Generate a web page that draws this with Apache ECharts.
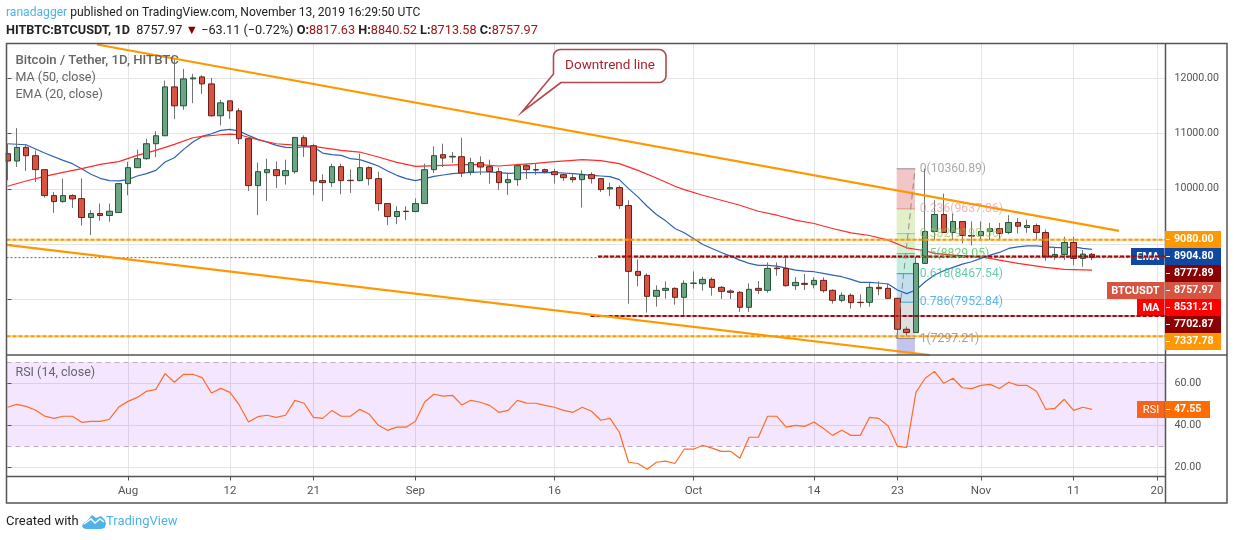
<!DOCTYPE html>
<html><head><meta charset="utf-8">
<style>html,body{margin:0;padding:0;background:#fff}#c{width:1234px;height:540px}</style>
<script src="https://cdn.jsdelivr.net/npm/echarts@6/dist/echarts.min.js"></script>
</head><body><div id="c"></div>
<script>
const FONT = "Roboto";
// day index 0 = 19 Jul 2019, one entry per daily candle
const opens=[10633,10501,10747,10597,10345,9877,9769,9877,9823,9481,9553,9517,9571,10093,10381,10543,10813,10957,11839,11497,11983,12019,11893,11317,11587,11407,10903,10057,10291,10345,10237,10309,10921,10777,10147,10111,10399,10153,10147,10381,10183,9733,9499,9595,9589,9733,10345,10615,10573,10579,10303,10471,10399,10309,10111,10165,10417,10345,10345,10309,10255,10201,10165,10255,10183,9997,10021,9697,8509,8437,8059,8167,8203,8041,8293,8287,8365,8221,8155,8131,7861,8203,8167,8569,8563,8251,8293,8269,8347,8167,7987,8077,7951,7951,8221,8203,8023,7465,7405,8653,9229,9535,9211,9409,9157,9157,9229,9283,9211,9391,9301,9337,9211,8773,8815,9031,8743,8817.63];
const closes=[10501,10747,10597,10345,9877,9769,9877,9817,9481,9553,9517,9595,10093,10381,10543,10813,10957,11839,11497,11983,12001,11893,11317,11551,11407,10903,10057,10309,10345,10237,10327,10927,10777,10141,10111,10399,10147,10147,10381,10183,9733,9499,9589,9589,9733,10345,10597,10555,10585,10285,10471,10393,10309,10111,10165,10417,10345,10339,10309,10255,10201,10165,10255,10183,9985,10021,9697,8509,8437,8059,8167,8203,8041,8293,8299,8365,8221,8149,8131,7861,8185,8167,8563,8557,8251,8311,8275,8347,8161,7987,8077,7945,7945,8221,8197,8023,7465,7405,8653,9229,9535,9211,9409,9157,9145,9229,9283,9193,9391,9325,9337,9211,8773,8815,9031,8743,8821,8757.97];
const lows=[10153,10393,10321,10123,9841,9565,9751,9655,9337,9163,9421,9403,9571,9883,10375,10525,10573,10957,11257,11425,11545,11713,11305,11143,11263,10807,9961,9523,9781,10015,10075,10273,10573,9883,9775,10033,9901,9925,10135,10063,9601,9343,9361,9433,9577,9733,10285,10393,10465,10213,10243,10249,10093,9979,9889,10051,10177,10249,10273,10093,10141,10111,9661,10093,9943,9871,9637,7927,8239,7765,7873,8017,7909,7705,8197,8161,8071,8011,8011,7777,7777,8101,8125,8431,8233,8173,8173,8203,8125,7927,7951,7837,7861,7873,8077,8023,7303,7345,7405,8653,9073,9211,9073,9013,8977,9055,9073,9073,9181,9193,9205,9073,8701,8713,8713,8623,8593,8713.58];
const highs=[10813,11095,10801,10693,10345,9943,10183,9901,10189,9613,9733,9733,10093,10489,10705,10903,11041,11953,12343,12163,12073,12049,12001,11605,11587,11455,10903,10471,10543,10495,10525,10927,10963,10813,10261,10453,10453,10351,10633,10405,10309,9733,9685,9685,9829,10453,10765,10813,10663,10921,10561,10585,10525,10381,10291,10453,10453,10453,10363,10363,10273,10273,10333,10297,10183,10111,10057,9793,8725,8473,8257,8329,8221,8347,8509,8413,8401,8245,8185,8155,8293,8335,8671,8671,8773,8407,8461,8401,8401,8185,8131,8113,8095,8305,8329,8293,8023,7513,8773,10363,9793,9913,9553,9409,9409,9409,9385,9385,9523,9469,9445,9373,9265,8941,9133,9133,8893,8840.52];
const emaDays=[0,2,4,6,7,8,9,10,11,12,13,14,15,16,17,18,19,20,21,22,23,24,25,26,27,28,29,30,31,32,33,34,35,36,37,38,39,40,41,42,43,44,45,46,47,48,49,50,51,52,53,54,55,56,57,58,59,60,61,62,63,64,65,66,67,68,69,70,71,72,73,74,75,76,77,78,79,80,81,82,83,84,85,86,87,88,89,90,91,92,93,94,95,96,97,98,99,100,101,102,103,104,105,106,107,108,109,110,111,112,113,114,115,116,117];
const emaValues=[10813,10795,10645,10513,10453,10363,10261,10189,10147,10141,10165,10231,10273,10333,10483,10561,10711,10843,10945,10993,11053,11071,11041,10963,10891,10843,10783,10747,10741,10759,10753,10645,10615,10603,10543,10525,10471,10411,10321,10243,10183,10147,10183,10225,10249,10273,10285,10297,10303,10303,10291,10279,10285,10291,10291,10297,10291,10285,10273,10261,10243,10231,10219,10165,10003,9853,9685,9535,9421,9283,9205,9103,8995,8923,8851,8785,8713,8653,8617,8617,8605,8569,8533,8515,8503,8473,8443,8413,8365,8311,8311,8299,8281,8173,8107,8173,8323,8443,8521,8581,8641,8683,8743,8803,8851,8923,8953,8971,8971,8953,8941,8935,8950,8925,8904.8];
const maDays=[0,2,4,6,8,10,12,14,16,18,20,21,23,24,25,27,29,31,33,36,38,40,42,44,47,49,51,53,55,57,59,61,62,64,66,68,70,72,73,75,77,79,81,83,85,87,89,91,93,95,97,99,100,102,105,107,109,112,114,117];
const maValues=[10045,10141,10225,10297,10363,10441,10489,10603,10693,10801,10921,10945,10975,10987,10975,10885,10813,10789,10765,10693,10663,10573,10477,10405,10423,10435,10435,10411,10435,10459,10489,10513,10525,10507,10453,10333,10195,10045,9985,9883,9793,9703,9595,9523,9433,9373,9283,9205,9157,9073,8935,8881,8833,8803,8773,8713,8653,8581,8545,8531.21];
const rsiValues=[48.6,50,49,47.3,44.4,43.3,44.3,44.3,41.4,41.9,41.9,42.9,48.7,51.4,53.3,56.2,57.1,64.6,60.5,64.3,64.3,62.7,55.4,57.6,55.7,49.7,41.6,44.1,44.8,43.8,44.8,51.9,50.5,43.8,43.3,47.1,44.3,44.3,47.6,45.4,40,37.6,39.1,39.1,41.9,51.1,54.8,53.9,54.3,49.7,51.9,51,49.5,46.2,47.1,51.9,50.6,50.5,49.5,48.6,47.1,46.2,48.6,46.7,42.4,43.3,36.7,22.4,21.8,19.1,22.4,22.9,21.8,28.6,28.6,30.5,29.1,27.6,27.6,24.3,34.3,34.3,44.3,44.3,39.1,40,39.5,41.6,38.6,35.2,37.6,35.2,35.2,43.8,43.3,39.7,30,29.5,55.7,62.4,65.7,60,62.4,57.9,57.5,59,59.5,57.5,60.5,59,59,56.2,47.6,48.1,52.4,47.1,48.6,47.55];
const tickDays=[13,24,33,44,59,74,87,96,105,115,124];
const tickLabels=['Aug','12','21','Sep','16','Oct','14','23','Nov','11','20'];
const priceTicks=[8000,9000,10000,11000,12000];
const rsiTicks=[20,40,60];
const upperTrend=[[9.65,12604],[119.9,9240]];
const lowerTrend=[[-0.1,8987],[99.5,7000]];
const orangeLevels=[9080,7337.78];
const redLevels=[[63.7,8777.89],[62.9,7702.87]];
const lastPrice=8757.97;
const fibRatios=['0','0.236','0.382','0.5','0.618','0.786','1'];
const fibPrices=[10360.89,9637.86,9190.56,8829.05,8467.54,7952.84,7297.21];
const fibFills=['#f2c6c6','#e3efc8','#d6f0cc','#c4eee0','#c3deef','#dfdfdf','#c4c4f0'];
const fibLines=['#8d8d8d','#e98a86','#9ccc65','#66bb6a','#26a69a','#42a5d5','#8d8d8d'];
const fibText=['rgba(120,120,120,.8)','rgba(235,140,135,.8)','rgba(150,200,90,.85)','rgba(76,190,90,.95)','rgba(50,190,150,.95)','rgba(50,160,220,.95)','rgba(120,120,120,.85)'];
const fibLeft=95.92, fibRight=97.9, fibFloor=7000, fibLabelDay=98.4;
const rightTags=[['9080.00','#ff9800'],['8904.80','#0f47a1'],['8777.89','#8b0000'],['8757.97','#d75442'],['8531.21','#ff0000'],['7702.87','#8b0000'],['7337.78','#ff9800']];
const leftTags=[[1,'EMA','#0f47a1',1131],[3,'BTCUSDT','#d75442',1107],[4,'MA','#ff0000',1137]];

const xMin=-0.108, xMax=124.92;
const days=opens.map((_,i)=>i);
const wicks=days.map(i=>[i,opens[i],closes[i],lows[i],highs[i]]);
const bodies=days.map(i=>[i,opens[i],closes[i],Math.min(opens[i],closes[i]),Math.max(opens[i],closes[i])]);
function flatLine(data,color,width,type,z,extra){return Object.assign({type:'line',xAxisIndex:0,yAxisIndex:0,data,showSymbol:false,symbol:'none',silent:true,z:z||6,lineStyle:{color,width,type:type||'solid',cap:'butt'}},extra||{});}

const series=[];
// Fibonacci retracement
const fibAreas=[];
fibPrices.forEach((p,i)=>{const next=i<fibPrices.length-1?fibPrices[i+1]:fibFloor;
  fibAreas.push([{coord:[fibLeft,p],itemStyle:{color:fibFills[i]}},{coord:[fibRight,next]}]);});
series.push({type:'scatter',xAxisIndex:0,yAxisIndex:0,symbolSize:0,silent:true,z:1,
  data:fibPrices.map((p,i)=>({value:[fibLabelDay,p]})),
  markArea:{silent:true,z:1,data:fibAreas}});
fibPrices.forEach((p,i)=>series.push(flatLine([[fibLeft,p],[fibRight,p]],fibLines[i],1,'solid',2)));
// averages
series.push(flatLine(emaDays.map((d,i)=>[d,emaValues[i]]),'#2f62b4',1.2,'solid',3));
series.push(flatLine(maDays.map((d,i)=>[d,maValues[i]]),'#ff2b2b',1.2,'solid',3));
// candles: grey wicks, then outlined bodies
series.push({type:'candlestick',xAxisIndex:0,yAxisIndex:0,layout:'horizontal',barWidth:1,silent:true,z:4,clip:true,
  encode:{x:0,y:[1,2,3,4]},data:wicks,
  itemStyle:{color:'#737375',color0:'#737375',borderColor:'#737375',borderColor0:'#737375',borderColorDoji:'#737375',borderWidth:1}});
series.push({type:'candlestick',xAxisIndex:0,yAxisIndex:0,layout:'horizontal',barWidth:6,silent:true,z:5,clip:true,
  encode:{x:0,y:[1,2,3,4]},data:bodies,
  itemStyle:{color:'#6ba583',color0:'#d75442',borderColor:'#225437',borderColor0:'#6b1f16',borderColorDoji:'#6b1f16',borderWidth:1}});
// last price and drawn levels
series.push(flatLine([[xMin,lastPrice],[xMax,lastPrice]],'#c2493a',1,[2,2],6));
orangeLevels.forEach(p=>{
  series.push(flatLine([[xMin,p],[xMax,p]],'rgba(255,152,0,.35)',2,'solid',6));
  series.push(flatLine([[xMin,p],[xMax,p]],'#ff9800',2,[4,2],6));
});
redLevels.forEach(r=>{
  series.push(flatLine([[r[0],r[1]],[xMax,r[1]]],'rgba(139,0,0,.3)',2,'solid',7));
  series.push(flatLine([[r[0],r[1]],[xMax,r[1]]],'#9c0c0c',2,[4,2],7));
});
// trend channel
series.push(flatLine(upperTrend,'#ff9800',2.2,'solid',8));
series.push(flatLine(lowerTrend,'#ff9800',2.2,'solid',8));
series.push(flatLine([[fibLeft,fibPrices[6]],[fibRight,fibPrices[0]]],'#8a8a8a',1,[6,4],8));
// fib labels
series.push({type:'scatter',xAxisIndex:0,yAxisIndex:0,symbolSize:0,silent:true,z:9,
  data:fibPrices.map((p,i)=>({value:[fibLabelDay,p],label:{show:true,position:'right',distance:0,formatter:fibRatios[i]+'('+p.toFixed(2)+')',color:fibText[i],fontFamily:FONT,fontSize:12.2}}))});
// RSI
series.push({type:'line',xAxisIndex:1,yAxisIndex:1,data:rsiValues.map((v,i)=>[i,v]),showSymbol:false,symbol:'none',silent:true,z:4,
  lineStyle:{color:'#ff6d24',width:1.2},
  markArea:{silent:true,z:1,itemStyle:{color:'rgba(156,39,255,.115)'},data:[[{yAxis:70},{yAxis:30}]]},
  markLine:{silent:true,symbol:'none',z:2,label:{show:false},lineStyle:{color:'#b9adc4',type:[5,4],width:1},data:[{yAxis:70},{yAxis:30}]}});

const txt=(x,y,text,fill,font,o,z)=>({type:'text',z:z||100,silent:true,style:Object.assign({x,y,text,fill,font:font||('13px '+FONT),textVerticalAlign:'middle'},o||{})});
// rounded outline for the callout drawing, as a polygon
function corner(cx,cy,r,a0,a1){const out=[];for(let k=0;k<=6;k++){const a=(a0+(a1-a0)*k/6)*Math.PI/180;out.push([cx+r*Math.cos(a),cy+r*Math.sin(a)]);}return out;}
const box={l:553.5,t:49.5,r:666,b:82.5,rad:7};
const calloutPts=[[561,box.b],[522,112],[box.l,74]]
  .concat(corner(box.l+box.rad,box.t+box.rad,box.rad,180,270))
  .concat(corner(box.r-box.rad,box.t+box.rad,box.rad,270,360))
  .concat(corner(box.r-box.rad,box.b-box.rad,box.rad,0,90));
const g=[];
// frame
g.push({type:'rect',z:60,silent:true,shape:{x:0,y:0,width:5.5,height:510},style:{fill:'#fff'}});
g.push({type:'rect',z:90,silent:true,shape:{x:6.5,y:43.5,width:1220.5,height:459.5},style:{fill:'none',stroke:'#555',lineWidth:1.5}});
g.push({type:'line',z:90,silent:true,shape:{x1:6.5,y1:355,x2:1227,y2:355},style:{stroke:'#555',lineWidth:1.5}});
g.push({type:'line',z:90,silent:true,shape:{x1:6.5,y1:476.5,x2:1165.5,y2:476.5},style:{stroke:'#555',lineWidth:1.5}});
g.push({type:'line',z:90,silent:true,shape:{x1:1165.5,y1:43,x2:1165.5,y2:503},style:{stroke:'#555',lineWidth:1.5}});
// header
g.push({type:'text',z:100,silent:true,style:{x:6,y:12.5,textVerticalAlign:'middle',font:'12.1px '+FONT,fill:'#222',
  text:'{a|ranadagger} published on TradingView.com, November 13, 2019 16:29:50 UTC',
  rich:{a:{fill:'#4fb3e8',font:'12.1px '+FONT}}}});
g.push({type:'text',z:100,silent:true,style:{x:6,y:30.5,textVerticalAlign:'middle',font:'12.7px '+FONT,fill:'#222',
  text:'{b|HITBTC:BTCUSDT, 1D}  8757.97 {r|▼} −63.11 (−0.72%) {b|O:}{v|8817.63} {b|H:}{v|8840.52} {b|L:}{v|8713.58} {b|C:}{v|8757.97}',
  rich:{b:{font:'bold 12.7px '+FONT,fill:'#222'},r:{fill:'#8b0000',font:'12.7px '+FONT},v:{fill:'#a31515',font:'12.7px '+FONT}}}});
// legend
g.push(txt(15.5,60.5,'Bitcoin / Tether, 1D, HITBTC','#666','500 13.2px '+FONT));
g.push(txt(15.5,77.5,'MA (50, close)','#666','12.5px '+FONT));
g.push(txt(15.5,94.5,'EMA (20, close)','#666','12.5px '+FONT));
g.push(txt(15.5,372.5,'RSI (14, close)','#666','12.5px '+FONT));
// callout
g.push({type:'polygon',z:70,silent:true,shape:{points:calloutPts},style:{fill:'#fff',stroke:'#b5474f',lineWidth:1.6}});
g.push(txt(610,66,'Downtrend line','#a8252c','13.5px '+FONT,{textAlign:'center'}));
// price tags
rightTags.forEach((t,i)=>{const y=231+i*17;
  g.push({type:'rect',z:95,silent:true,shape:{x:1165,y,width:56,height:17},style:{fill:t[1]}});
  g.push({type:'line',z:96,silent:true,shape:{x1:1166,y1:y+8.5,x2:1170,y2:y+8.5},style:{stroke:'#fff',lineWidth:1}});
  g.push(txt(1174,y+8.8,t[0],'#fff','bold 10.6px '+FONT));
});
leftTags.forEach(t=>{const y=231+t[0]*17;
  g.push({type:'rect',z:6,silent:true,shape:{x:t[3],y,width:1164.5-t[3],height:17},style:{fill:t[2]}});
  g.push(txt(1159.5,y+8.8,t[1],'#fff','bold 11px '+FONT,{textAlign:'right'},6));
});
// RSI tag
g.push({type:'rect',z:80,silent:true,shape:{x:1137,y:401,width:28,height:17},style:{fill:'#f4641a'}});
g.push({type:'rect',z:95,silent:true,shape:{x:1165,y:401,width:45,height:17},style:{fill:'#ff6d00'}});
g.push({type:'line',z:96,silent:true,shape:{x1:1166,y1:409.5,x2:1170,y2:409.5},style:{stroke:'#fff',lineWidth:1}});
g.push(txt(1151,409.8,'RSI','#fff','11px '+FONT,{textAlign:'center'}));
g.push(txt(1174,409.8,'47.55','#fff','bold 10.6px '+FONT));
// footer
g.push(txt(6,522,'Created with','#222','13px '+FONT));
g.push({type:'polygon',z:100,silent:true,shape:{points:[[82,526],[84,522.5],[87,521],[92,515],[96,518],[101,516],[105,520],[106,524],[104.5,528],[101,529],[86,529],[83,528]]},style:{fill:'#4fb3e8'}});
g.push({type:'polyline',z:101,silent:true,shape:{points:[[84,524],[91,519],[95,523],[100,519],[104,522]]},style:{stroke:'#fff',fill:'none',lineWidth:1.4}});
g.push(txt(106,522,'TradingView','#4fb3e8','13px '+FONT));

const tickFmt=v=>{const i=tickDays.indexOf(v);return i<0?'':tickLabels[i];};
const xBase={type:'value',min:xMin,max:xMax,scale:true,
  axisTick:{customValues:tickDays},
  axisLabel:{customValues:tickDays,formatter:tickFmt},
  splitLine:{show:true,lineStyle:{color:'#e4e4e4',width:1}}};
const yLabel=vals=>({customValues:vals,formatter:v=>v.toFixed(2),color:'#555',fontFamily:FONT,fontSize:10.6,margin:9,padding:[3,0,0,0]});
const option={animation:false,backgroundColor:'#fff',
  grid:[{left:6.5,top:43.5,width:1159,height:311.5,containLabel:false},{left:6.5,top:355,width:1159,height:121.5,containLabel:false}],
  xAxis:[
    Object.assign({},xBase,{gridIndex:0,axisLine:{show:false},axisTick:{show:false,customValues:tickDays},axisLabel:{show:false,customValues:tickDays}}),
    Object.assign({},xBase,{gridIndex:1,axisLine:{show:false},axisTick:{show:true,customValues:tickDays,length:4,lineStyle:{color:'#555'}},
      axisLabel:{show:true,customValues:tickDays,formatter:tickFmt,color:'#555',fontFamily:FONT,fontSize:11.5,margin:9,showMinLabel:true,showMaxLabel:true,hideOverlap:false}})
  ],
  yAxis:[
    {type:'value',gridIndex:0,position:'right',min:7000,max:12622,scale:true,axisLine:{show:false},
     axisTick:{show:true,customValues:priceTicks,length:4,lineStyle:{color:'#555'}},
     axisLabel:yLabel(priceTicks),
     splitLine:{show:true,lineStyle:{color:'#e4e4e4',width:1}}},
    {type:'value',gridIndex:1,position:'right',min:15.6,max:73.5,scale:true,axisLine:{show:false},
     axisTick:{show:true,customValues:rsiTicks,length:4,lineStyle:{color:'#555'}},
     axisLabel:yLabel(rsiTicks),
     splitLine:{show:true,lineStyle:{color:'#e4e4e4',width:1}}}
  ],
  series,graphic:{elements:g}};
echarts.init(document.getElementById('c')).setOption(option);
</script></body></html>
